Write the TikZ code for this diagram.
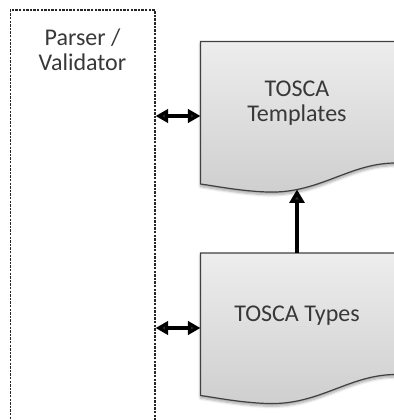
\documentclass[tikz,border=0pt]{standalone}
\usepackage{fontspec}
\setmainfont{Carlito}
\usepackage{tikz}
\usetikzlibrary{arrows.meta,positioning,shadows.blur}

\tikzset{
  doc/.style={draw=black!75, line width=0.9pt, top color=black!7, bottom color=black!19,
    blur shadow={shadow xshift=0pt, shadow yshift=-2pt, shadow blur steps=6, shadow opacity=35}},
  lbl/.style={font=\fontsize{18}{18.75}\selectfont, text=black!78, align=center},
  dbl/.style={{Triangle[length=9.5pt,width=10pt]}-{Triangle[length=9.5pt,width=10pt]}, line width=2.6pt},
  uparr/.style={-{Triangle[length=10pt,width=11pt]}, line width=2.8pt},
}

\begin{document}
\begin{tikzpicture}[x=0.75pt,y=-0.75pt]
  \useasboundingbox (0,0) rectangle (393,420);

  \node (pv) [draw=black!85, line width=1.1pt, dash pattern=on 1.8pt off 0.9pt,
    minimum width=108.4pt, minimum height=315.4pt, inner sep=0pt, anchor=north west] at (9.5,9.5) {};
  \node (pvtext) [lbl, below=11pt of pv.north] {Parser /\\Validator};

  \draw[doc] (200.5,41.5) -- (398,41.5) -- (398,163)
    .. controls (350,162) and (320,194) .. (267,192)
    .. controls (240,191) and (215,186) .. (200.5,184) -- cycle;
  \draw[doc] (200.5,253) -- (398,253) -- (398,374.5)
    .. controls (350,373.5) and (320,405.5) .. (267,403.5)
    .. controls (240,402.5) and (215,397.5) .. (200.5,395.5) -- cycle;

  \node (tpl) [lbl] at (297,103) {TOSCA\\Templates};
  \node (typ) [lbl] at (297,316) {TOSCA Types};

  \coordinate (tplW) at (200.5,116);
  \coordinate (typW) at (200.5,328);
  \coordinate (tplS) at (297,189.5);
  \coordinate (typN) at (297,253);

  \draw[dbl] (pv.east |- tplW) -- (tplW);
  \draw[dbl] (pv.east |- typW) -- (typW);
  \draw[uparr] (typN) -- (tplS);
\end{tikzpicture}
\end{document}
